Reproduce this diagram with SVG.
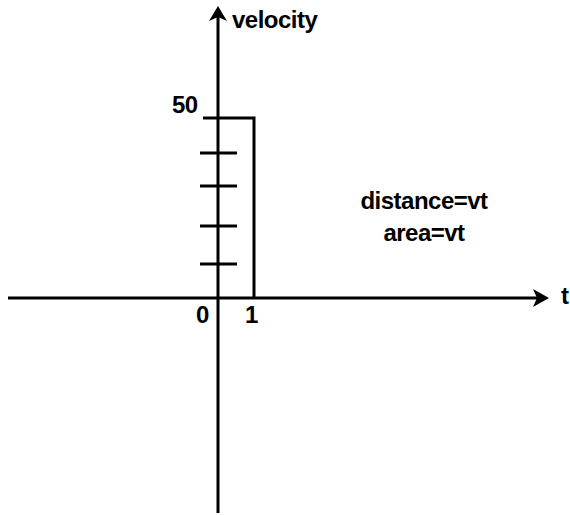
<svg xmlns="http://www.w3.org/2000/svg" width="570" height="515" viewBox="0 0 570 515">
<style>
.ax{stroke:#000;stroke-width:3;fill:none}
.tk{stroke:#000;stroke-width:3;fill:none}
.lb{font-family:"Liberation Sans",Arial,sans-serif;font-size:24px;font-weight:bold;fill:#000;letter-spacing:-0.5px}
</style>
<rect width="570" height="515" fill="#fff"/>
<g id="connectors">
<line class="ax" x1="8" y1="298" x2="540" y2="298"/>
<path d="M533,289 L549,298 L533,307 L537,298 Z" fill="#000"/>
<line class="ax" x1="218" y1="513" x2="218" y2="14"/>
<path d="M209,21 L218,6 L227,21 L218,17 Z" fill="#000"/>
</g>
<g id="rect">
<polyline class="ax" points="203,118 254,118 254,298"/>
</g>
<g id="ticks">
<line class="tk" x1="200" y1="153" x2="237" y2="153"/>
<line class="tk" x1="200" y1="186" x2="237" y2="186"/>
<line class="tk" x1="200" y1="226" x2="237" y2="226"/>
<line class="tk" x1="200" y1="264" x2="237" y2="264"/>
</g>
<g id="labels">
<text class="lb" x="232" y="28">velocity</text>
<text class="lb" x="172" y="113">50</text>
<text class="lb" x="196" y="323">0</text>
<text class="lb" x="245" y="323">1</text>
<text class="lb" x="561" y="304">t</text>
<text class="lb" x="424" y="209" text-anchor="middle">distance=vt</text>
<text class="lb" x="424" y="241" text-anchor="middle">area=vt</text>
</g>
</svg>
